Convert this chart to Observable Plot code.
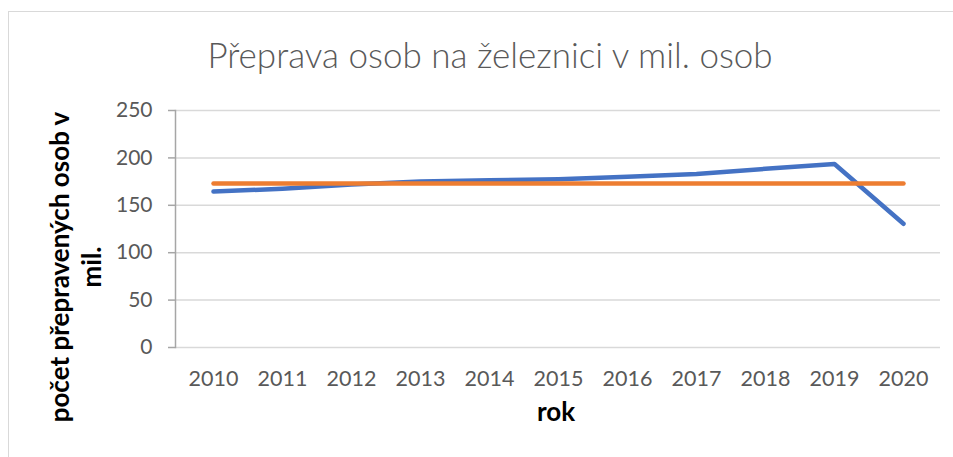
<!DOCTYPE html>
<html>
<head>
<meta charset="utf-8">
<script src="https://cdn.jsdelivr.net/npm/d3@7"></script>
<script src="https://cdn.jsdelivr.net/npm/@observablehq/plot@0.6"></script>
<style>
  html, body { margin: 0; padding: 0; background: #fff; overflow: hidden; }
  #wrap { position: relative; width: 953px; height: 457px; }
  #border { position: absolute; left: 8px; top: 11px; width: 960px; height: 460px;
            border: 1.5px solid #d9d9d9; box-sizing: border-box; pointer-events: none; }
  svg { position: absolute; left: 0; top: 0; }
</style>
</head>
<body>
<div id="wrap"><div id="border"></div></div>
<script>
const years = ["2010","2011","2012","2013","2014","2015","2016","2017","2018","2019","2020"];
const passengers = [164.5, 167.5, 172, 175, 176.5, 177.5, 180, 183, 188.5, 193.5, 130.5];
const average = [173, 173, 173, 173, 173, 173, 173, 173, 173, 173, 173];
const yTicks = [0, 50, 100, 150, 200, 250];
const chartTitle = "Přeprava osob na železnici v mil. osob";
const yTitle = "počet přepravených osob v\nmil.";
const xTitle = "rok";

const blue = years.map((y, i) => ({year: y, value: passengers[i]}));
const orange = years.map((y, i) => ({year: y, value: average[i]}));

const font = "Lato, 'Open Sans', sans-serif";

const chart = Plot.plot({
  width: 953,
  height: 457,
  marginLeft: 175,
  marginRight: 13,
  marginTop: 110,
  marginBottom: 110,
  style: {fontFamily: font, background: "transparent", overflow: "visible"},
  x: {type: "point", domain: years, padding: 0.5},
  y: {domain: [0, 250]},
  marks: [
    Plot.gridY(yTicks, {stroke: "#d9d9d9", strokeOpacity: 1, strokeWidth: 1.5}),
    Plot.frame({anchor: "left", stroke: "#a6a6a6", strokeWidth: 1.5}),
    Plot.axisY({ticks: yTicks, tickSize: 7, tickPadding: 16, fontSize: 21, color: "#595959",
                stroke: "#a6a6a6", strokeWidth: 1.5, label: null}),
    Plot.axisX({tickSize: 0, tickPadding: 23, fontSize: 21.5, color: "#595959", label: null}),
    Plot.line(blue, {x: "year", y: "value", stroke: "#4472C4", strokeWidth: 4.5,
                     strokeLinecap: "round", strokeLinejoin: "round"}),
    Plot.line(orange, {x: "year", y: "value", stroke: "#ED7D31", strokeWidth: 4.5,
                       strokeLinecap: "round", strokeLinejoin: "round"}),
    Plot.text([chartTitle], {frameAnchor: "top", dx: -68, dy: -54, fontSize: 35,
                             fontWeight: 300, fill: "#595959", lineAnchor: "middle"}),
    Plot.text([yTitle], {frameAnchor: "left", textAnchor: "middle", dx: -101, dy: 38, rotate: -90,
                         fontSize: 26, fontWeight: "bold", fill: "#000", lineAnchor: "middle",
                         lineHeight: 1.23}),
    Plot.text([xTitle], {frameAnchor: "bottom", dx: -2, dy: 65, fontSize: 26,
                         fontWeight: "bold", fill: "#000", lineAnchor: "middle"})
  ]
});
document.getElementById("wrap").appendChild(chart);
</script>
</body>
</html>
